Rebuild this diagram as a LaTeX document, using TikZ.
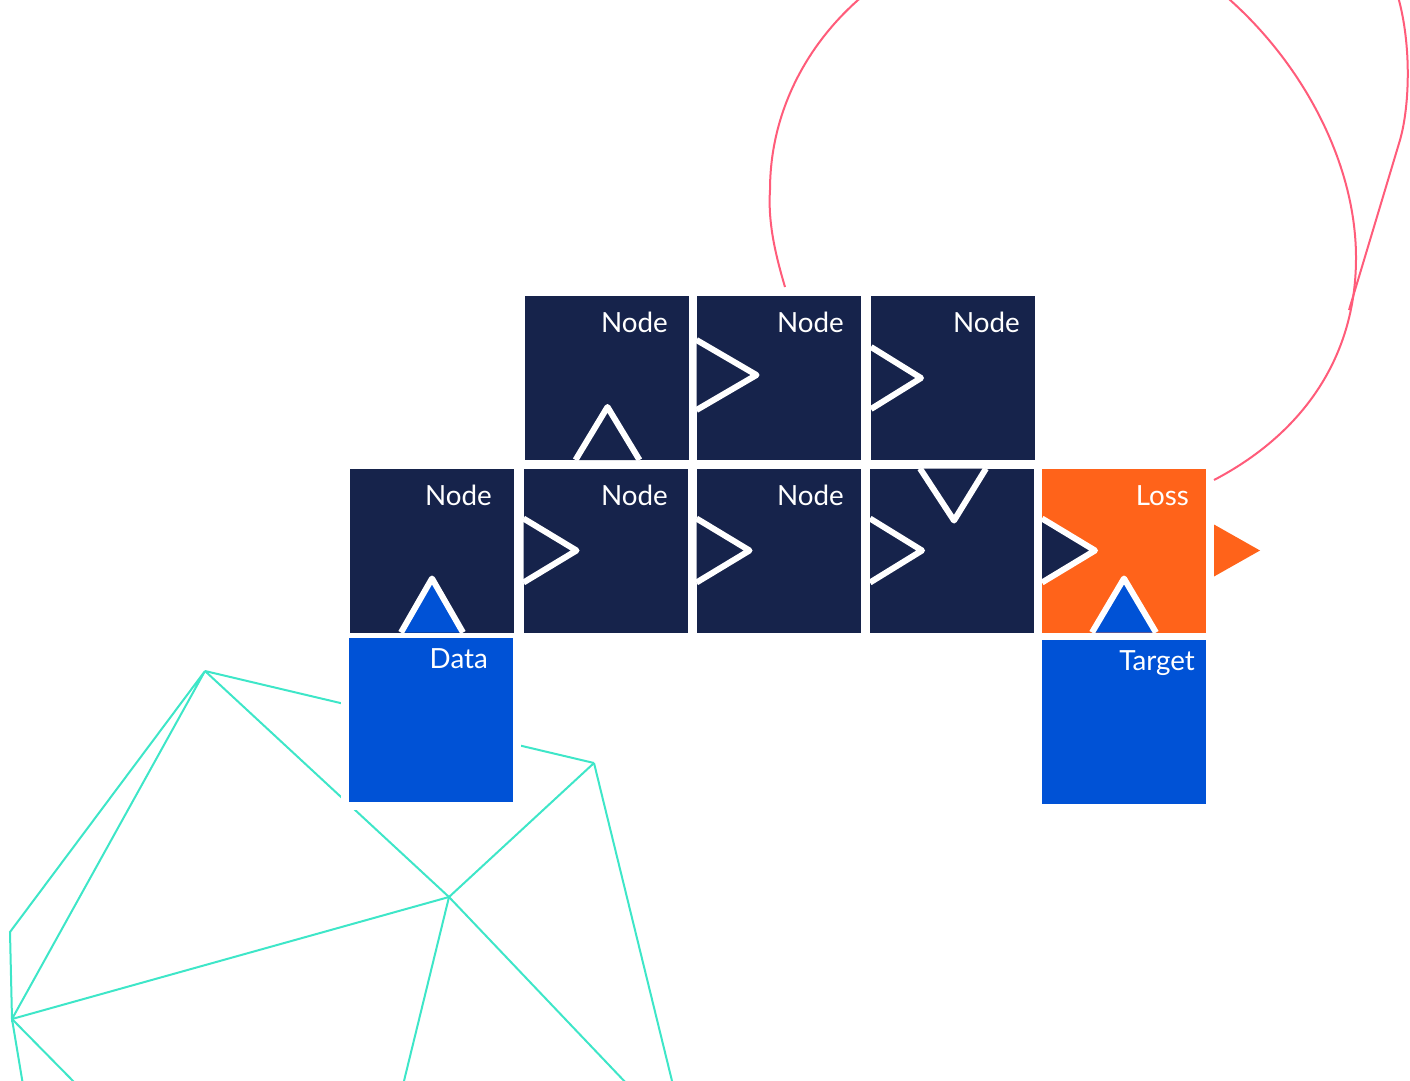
\documentclass[tikz,border=0pt]{standalone}
\usepackage{fontspec}
\setmainfont{Lato}
\usetikzlibrary{calc}
\definecolor{navy}{RGB}{22,35,75}
\definecolor{dblue}{RGB}{0,82,214}
\definecolor{lorange}{RGB}{255,99,26}
\definecolor{tealc}{RGB}{62,230,200}
\definecolor{pinkc}{RGB}{255,92,122}
\begin{document}
\begin{tikzpicture}[x=0.05cm,y=-0.05cm,
  box/.style={minimum width=8.2cm,minimum height=8.2cm,inner sep=0,outer sep=0},
  halo/.style={preaction={draw=white,line width=0.8cm}},
  lbl/.style={anchor=base east,text=white,font=\fontsize{39.5}{42}\selectfont,inner sep=0},
  tri/.style={draw=white,line width=0.3cm,line join=round},
  tline/.style={draw=tealc,line width=0.1cm},
  pline/.style={draw=pinkc,line width=0.1cm}]
\useasboundingbox (0,0) rectangle (1410,1080);
\begin{scope}
\clip (0,0) rectangle (1410,1080);
% teal background network
\coordinate (A) at (205,671);
\coordinate (C) at (594,763);
\coordinate (D) at (449,897);
\coordinate (E) at (12,1019);
\coordinate (F) at (10,932);
\draw[tline] (A) -- (C);
\draw[tline] (A) -- (D);
\draw[tline] (C) -- (D);
\draw[tline] (A) -- (F) -- (E) -- cycle;
\draw[tline] (D) -- (E);
\draw[tline] (C) -- (673,1085);
\draw[tline] (D) -- (403,1085);
\draw[tline] (D) -- (628,1085);
\draw[tline] (E) -- (23,1085);
\draw[tline] (E) -- (77,1085);
% pink curves
\coordinate (p0) at (785,287);
\coordinate (p1) at (770,190);
\coordinate (p2) at (1060,-75);
\coordinate (p3) at (1356,258);
\coordinate (p4) at (1214,480);
\draw[pline] (p0) .. controls (774,250) and (768,220) .. (p1)
  .. controls (770,44) and (900,-75) .. (p2)
  .. controls (1200,-75) and (1356,95) .. (p3)
  .. controls (1356,360) and (1300,435) .. (p4);
\coordinate (q0) at (1349,310);
\coordinate (q1) at (1400,140);
\draw[pline] (q0) -- (q1) .. controls (1410,105) and (1412,40) .. (1396,-10);
\end{scope}
% boxes
\node[box,halo,fill=dblue] (data) at (431,720) {};
\node[box,fill=navy] (n11) at (606.5,378) {};
\node[box,fill=navy] (n12) at (778.5,378) {};
\node[box,fill=navy] (n13) at (953,378) {};
\node[box,fill=navy] (n21) at (432,550.5) {};
\node[box,fill=navy] (n22) at (605.5,550.5) {};
\node[box,fill=navy] (n23) at (778.5,550.5) {};
\node[box,fill=navy] (n24) at (952,550.5) {};
\node[box,fill=lorange] (loss) at (1124,550.5) {};
\node[box,fill=dblue] (target) at (1124,721.5) {};
% labels
\node[lbl] (t11) at (668,332) {Node};
\node[lbl] (t12) at (844,332) {Node};
\node[lbl] (t13) at (1020,332) {Node};
\node[lbl] (t21) at (492,505) {Node};
\node[lbl] (t22) at (668,505) {Node};
\node[lbl] (t23) at (844,505) {Node};
\node[lbl] (tloss) at (1189,505) {Loss};
\node[lbl] (tdata) at (488,668) {Data};
\node[lbl] (ttarget) at (1195,670) {Target};
% connector triangles
\draw[tri,fill=dblue] ($(n21.south)+(-31,0)$) -- ($(n21.south)+(0,-54)$) -- ($(n21.south)+(31,0)$);
\draw[tri,fill=navy] ($(n22.west)+(0,-32)$) -- ($(n22.west)+(53,0)$) -- ($(n22.west)+(0,32)$);
\draw[tri,fill=navy] ($(n23.west)+(0,-32)$) -- ($(n23.west)+(53,0)$) -- ($(n23.west)+(0,32)$);
\draw[tri,fill=navy] ($(n24.west)+(0,-32)$) -- ($(n24.west)+(52,0)$) -- ($(n24.west)+(0,32)$);
\draw[tri,fill=navy] ($(loss.west)+(0,-32)$) -- ($(loss.west)+(53,0)$) -- ($(loss.west)+(0,32)$);
\draw[tri,fill=navy] ($(n24.north)+(-32,0)$) -- ($(n24.north)+(2,52)$) -- ($(n24.north)+(34,0)$);
\draw[tri,fill=navy] ($(n11.south)+(-31,0)$) -- ($(n11.south)+(1,-53)$) -- ($(n11.south)+(33,0)$);
\draw[tri,fill=navy] ($(n12.west)+(0,-38)$) -- ($(n12.west)+(60,-3)$) -- ($(n12.west)+(0,32)$);
\draw[tri,fill=navy] ($(n13.west)+(0,-31)$) -- ($(n13.west)+(50,0)$) -- ($(n13.west)+(0,31)$);
\draw[tri,fill=dblue] ($(loss.south)+(-32,0)$) -- ($(loss.south)+(0,-54)$) -- ($(loss.south)+(32,0)$);
\fill[lorange] ($(loss.east)+(8,-26)$) -- ($(loss.east)+(54,0)$) -- ($(loss.east)+(8,26)$) -- cycle;
\end{tikzpicture}
\end{document}
